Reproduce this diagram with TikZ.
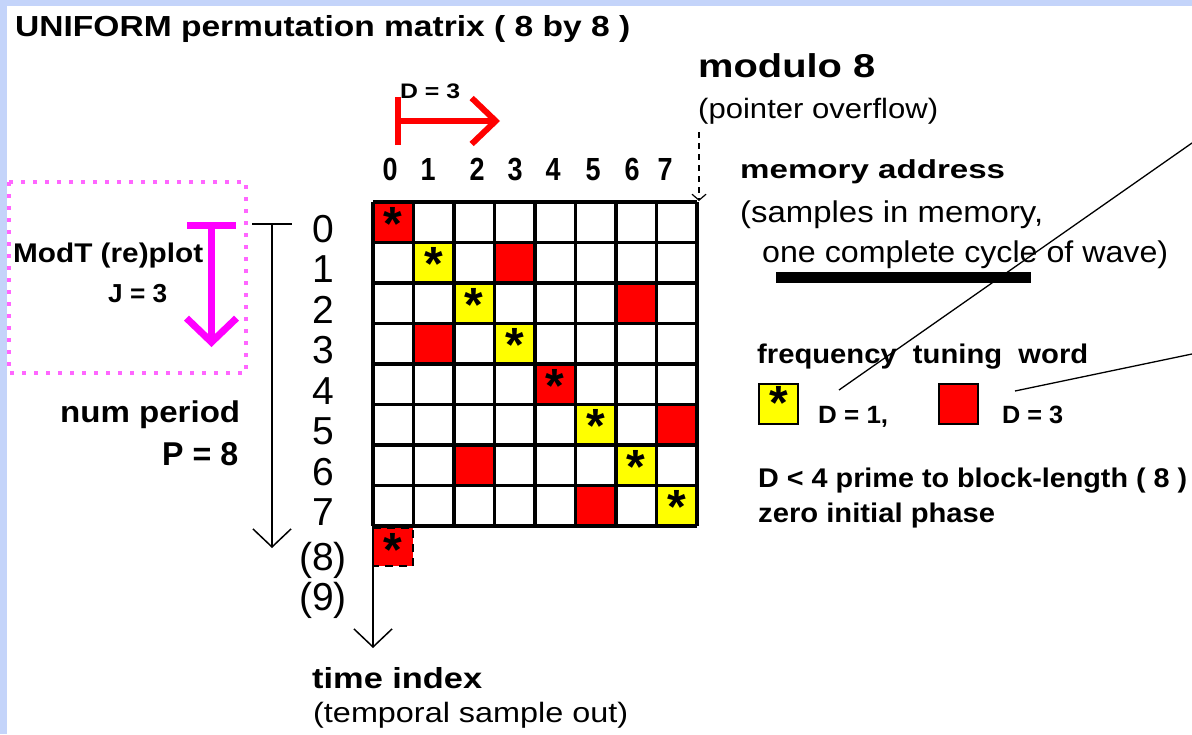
\documentclass[tikz,border=0pt]{standalone}
\usepackage{fontspec}
\setmainfont{Liberation Sans}
\usepackage{graphicx}
\usetikzlibrary{arrows.meta}

\definecolor{bgblue}{RGB}{196,212,250}
\definecolor{dotpink}{RGB}{255,102,255}
\definecolor{jumpmag}{RGB}{255,0,255}
\definecolor{cellred}{RGB}{255,0,0}
\definecolor{cellyellow}{RGB}{255,255,0}
\newcommand{\fsz}[1]{\fontsize{#1}{#1}\selectfont}
\newcommand{\fitto}[2]{\resizebox{#1pt}{\height}{#2}}

\begin{document}
\begin{tikzpicture}[x=1pt,y=-1pt,
    txt/.style={inner sep=0pt,anchor=base west},
    star/.style={inner sep=0pt,anchor=base,font=\fsz{48}\bfseries},
    rowlab/.style={inner sep=0pt,anchor=base,font=\fsz{39}},
    collab/.style={inner sep=0pt,anchor=base,font=\fsz{32}\bfseries},
    thinarrow/.style={line width=1.5pt,-{Straight Barb[length=18pt,width=38pt]}}]

		\fill[bgblue] (0,0) rectangle (1192,734);
		\fill[white] (7,6) rectangle (1192,734);
		\useasboundingbox (0,0) rectangle (1192,734);

		\node[txt] (title) at (15,36) {\fsz{29}\bfseries\fitto{615}{UNIFORM permutation matrix ( 8 by 8 )}};

		% the matrix
		\foreach \r/\c in {0/0,1/3,2/6,3/1,4/4,5/7,6/2,7/5}
			\fill[cellred] (373+40.5*\c,202+40.5*\r) rectangle ++(40.5,40.5);
		\foreach \r in {1,2,3,5,6,7}
			\fill[cellyellow] (373+40.5*\r,202+40.5*\r) rectangle ++(40.5,40.5);
		\foreach \i in {0,...,8} {
			\draw[line width=3.5pt] (373+40.5*\i,202) -- (373+40.5*\i,526);
			\draw[line width=3.5pt] (373,202+40.5*\i) -- (697,202+40.5*\i);
		}
		\foreach \i in {0,...,7}
			\node[star] (star\i) at (393.25+40.5*\i,240+40.5*\i) {*};

		% wrapped sample
		\fill[cellred] (373,528) rectangle (413,566);
		\draw[line width=2.5pt, dash pattern=on 8pt off 6pt] (373,528) -- (413,528) -- (413,566) -- (373,566);
		\node[star] (star8) at (393,566) {*};

		% indices
		\foreach \c/\x in {0/390,1/428,2/477,3/515,4/553,5/593,6/632,7/665}
			\node[collab] (col\c) at (\x,180) {\fitto{15}{\c}};
		\foreach \k in {0,...,7}
			\node[rowlab] (row\k) at (323,242+40.5*\k) {\k};
		\node[rowlab] (row8) at (323,570) {(8)};
		\node[rowlab] (row9) at (323,610) {(9)};

		% D = 3 step
		\coordinate (stepS) at (395,121);
		\coordinate (stepE) at (500,121);
		\draw[cellred, line width=6pt, {Bar[width=48pt]}-{Straight Barb[length=24pt,width=46pt]}] (stepS) -- (stepE);
		\node[txt] (stepD) at (400,98) {\fsz{21}\bfseries\fitto{60}{D = 3}};

		% J = 3 replot
		\draw[dotpink, line width=4pt, dash pattern=on 4pt off 8pt] (9,182) rectangle (246,373);
		\coordinate (jumpS) at (211.5,222);
		\coordinate (jumpE) at (211.5,347);
		\draw[jumpmag, line width=7pt, {Bar[width=49pt]}-{Straight Barb[length=24pt,width=50pt]}] (jumpS) -- (jumpE);
		\node[txt] (modt) at (13,262) {\fsz{27}\bfseries\fitto{190}{ModT (re)plot}};
		\node[txt] (jval) at (108,302) {\fsz{26}\bfseries\fitto{59}{J = 3}};

		% period
		\coordinate (perS) at (272,223);
		\coordinate (perE) at (272,548);
		\draw[thinarrow, {Bar[width=40pt]}-{Straight Barb[length=18pt,width=38pt]}] (perS) -- (perE);
		\node[txt] (numper) at (60,422) {\fsz{30}\bfseries\fitto{180}{num period}};
		\node[txt] (pval) at (162,465) {\fsz{33}\bfseries\fitto{76}{P = 8}};

		% time axis
		\coordinate (timeS) at (373,526);
		\coordinate (timeE) at (373,648);
		\draw[thinarrow] (timeS) -- (timeE);
		\node[txt] (time) at (312,688) {\fsz{29}\bfseries\fitto{170}{time index}};
		\node[txt] (temporal) at (313,722) {\fsz{28}\fitto{315}{(temporal sample out)}};

		% modulo
		\node[txt] (modulo) at (698,77) {\fsz{33}\bfseries\fitto{177}{modulo 8}};
		\node[txt] (pointer) at (698,118) {\fsz{28}\fitto{240}{(pointer overflow)}};
		\coordinate (wrapS) at (699,132);
		\coordinate (wrapE) at (699,201);
		\draw[line width=1.2pt, dash pattern=on 6pt off 5pt, -{Straight Barb[length=6pt,width=14pt]}] (wrapS) -- (wrapE);

		% memory
		\node[txt] (memaddr) at (740,178) {\fsz{26}\bfseries\fitto{265}{memory address}};
		\node[txt] (samples) at (740,222) {\fsz{30}\fitto{303}{(samples in memory,}};
		\node[txt] (cycle) at (762,262) {\fsz{30}\fitto{406}{one complete cycle of wave)}};
		\fill (776,272) rectangle (1031,283);

		% legend
		\node[txt] (ftw) at (757,363) {\fsz{27}\bfseries\fitto{331}{frequency\ \ tuning\ \ word}};
		\draw[line width=2pt, fill=cellyellow] (759,384) rectangle (798,424);
		\node[star] (keystar) at (778.5,419) {*};
		\node[txt] (done) at (818,423) {\fsz{25}\bfseries\fitto{70}{D = 1,}};
		\draw[line width=2pt, fill=cellred] (939,384) rectangle (978,424);
		\node[txt] (dthree) at (1002,423) {\fsz{25}\bfseries\fitto{61}{D = 3}};
		\node[txt] (prime) at (758,487) {\fsz{27}\bfseries\fitto{429}{D < 4 prime to block-length ( 8 )}};
		\node[txt] (zero) at (758,522) {\fsz{27}\bfseries\fitto{237}{zero initial phase}};

		\coordinate (oneS) at (839,390);
		\coordinate (oneE) at (1192,143);
		\coordinate (threeS) at (1015,391);
		\coordinate (threeE) at (1192,354);
		\draw[line width=1.3pt] (oneS) -- (oneE);
		\draw[line width=1.3pt] (threeS) -- (threeE);
\end{tikzpicture}
\end{document}
